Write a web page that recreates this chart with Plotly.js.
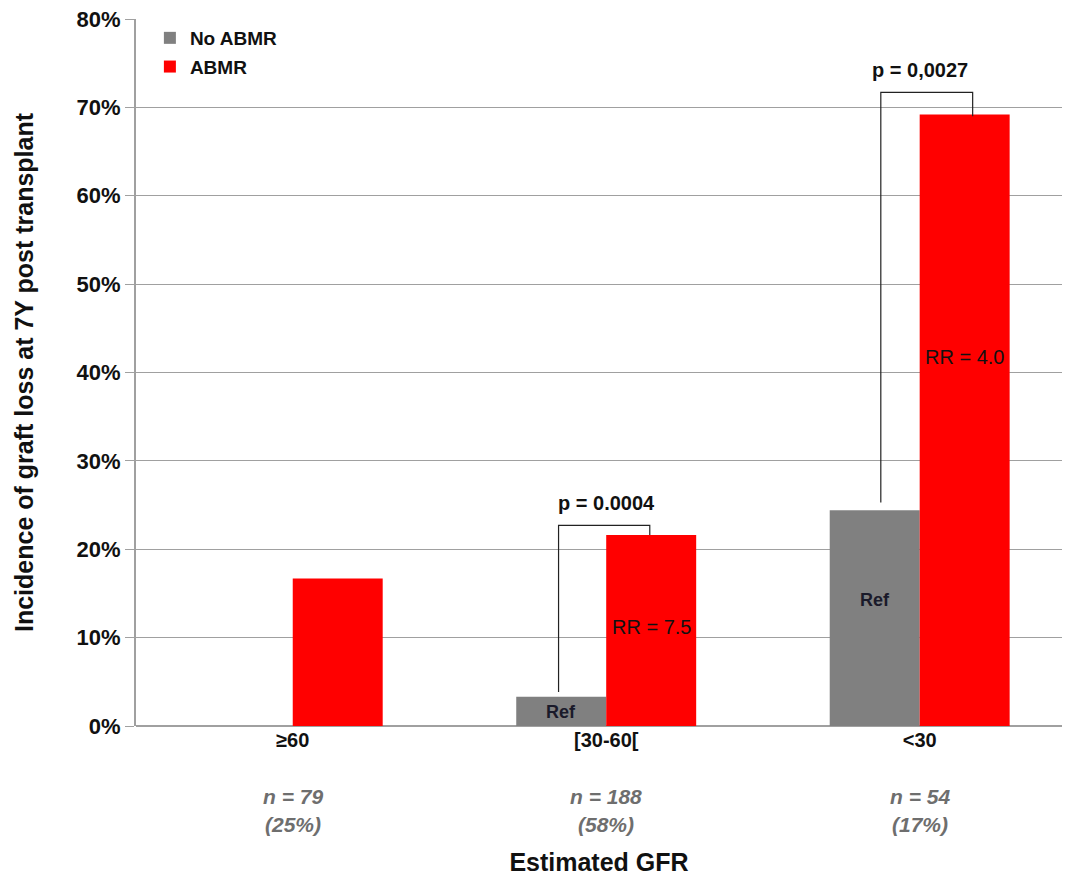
<!DOCTYPE html>
<html>
<head>
<meta charset="utf-8">
<script src="https://cdn.plot.ly/plotly-3.0.1.min.js"></script>
<style>html,body{margin:0;padding:0;background:#fff}#chart{width:1070px;height:877px}</style>
</head>
<body>
<div id="chart"></div>
<script>
var categories = ['≥60', '[30-60[', '<30'];
var noAbmr = [0, 3.3, 24.4];
var abmr = [16.7, 21.6, 69.2];
var nLabels = ['n = 79', 'n = 188', 'n = 54'];
var pctLabels = ['(25%)', '(58%)', '(17%)'];
var seriesNames = ['No ABMR', 'ABMR'];

var F = 'Liberation Sans, Arial, sans-serif';

var traces = [
  {type: 'bar', name: seriesNames[0], legendgroup: 'a', x: categories, y: noAbmr, marker: {color: '#808080'}, hoverinfo: 'y'},
  {type: 'bar', name: seriesNames[1], legendgroup: 'b', x: categories, y: abmr, marker: {color: '#ff0000'}, hoverinfo: 'y'}
];

var annotations = [];
for (var i = 0; i < categories.length; i++) {
  annotations.push({xref: 'x', yref: 'paper', x: i, y: -0.1, yanchor: 'middle', text: '<b><i>' + nLabels[i] + '</i></b>', showarrow: false, font: {family: F, size: 21, color: '#6e6e6e'}});
  annotations.push({xref: 'x', yref: 'paper', x: i, y: -0.14, yanchor: 'middle', text: '<b><i>' + pctLabels[i] + '</i></b>', showarrow: false, font: {family: F, size: 21, color: '#6e6e6e'}});
}
annotations.push({xref: 'x', yref: 'y', x: 0.857, y: 1.6, text: '<b>Ref</b>', showarrow: false, font: {family: F, size: 18, color: '#1a1a2a'}});
annotations.push({xref: 'x', yref: 'y', x: 1.143, y: 11.2, text: 'RR = 7.5', showarrow: false, font: {family: F, size: 20, color: '#111'}});
annotations.push({xref: 'x', yref: 'y', x: 1.857, y: 14.3, text: '<b>Ref</b>', showarrow: false, font: {family: F, size: 18, color: '#1a1a2a'}});
annotations.push({xref: 'x', yref: 'y', x: 2.143, y: 41.8, text: 'RR = 4.0', showarrow: false, font: {family: F, size: 20, color: '#111'}});
annotations.push({xref: 'x', yref: 'y', x: 1.0, y: 25.2, text: '<b>p = 0.0004</b>', showarrow: false, font: {family: F, size: 20, color: '#111'}});
annotations.push({xref: 'x', yref: 'y', x: 2.0, y: 74.2, text: '<b>p = 0,0027</b>', showarrow: false, font: {family: F, size: 20, color: '#111'}});

var lineStyle = {color: '#222', width: 1.2};
var shapes = [
  {type: 'path', xref: 'x', yref: 'y', path: 'M 0.848 3.85 L 0.848 22.7 L 1.139 22.7 L 1.139 21.6', line: lineStyle},
  {type: 'path', xref: 'x', yref: 'y', path: 'M 1.876 25.3 L 1.876 71.7 L 2.169 71.7 L 2.169 69.0', line: lineStyle}
];

var layout = {
  width: 1070, height: 877,
  margin: {l: 136, r: 8, t: 19, b: 151},
  paper_bgcolor: '#fff', plot_bgcolor: '#fff',
  barmode: 'group', bargap: 0.426, bargroupgap: 0,
  showlegend: true,
  legend: {x: 0.015, y: 1.0, xanchor: 'left', yanchor: 'top', traceorder: 'grouped', tracegroupgap: 1, bgcolor: 'rgba(0,0,0,0)', font: {family: F, size: 19, color: '#111', weight: 'bold'}, itemwidth: 30},
  xaxis: {
    type: 'category', range: [-0.5, 2.454],
    showgrid: false, zeroline: false,
    showline: false, ticks: '',
    tickfont: {family: F, size: 20, color: '#111', weight: 'bold'},
    tickangle: 0,
    title: {text: '<b>Estimated GFR</b>', font: {family: F, size: 25, color: '#111'}, standoff: 103}
  },
  yaxis: {
    range: [0, 80], dtick: 10, ticksuffix: '%',
    showgrid: true, gridcolor: '#a0a0a0', gridwidth: 1.2,
    zeroline: true, zerolinecolor: '#a0a0a0', zerolinewidth: 2,
    showline: true, linecolor: '#a0a0a0', linewidth: 2,
    ticks: 'outside', ticklen: 9, tickcolor: '#a0a0a0',
    tickfont: {family: F, size: 22, color: '#111', weight: 'bold'},
    title: {text: '<b>Incidence of graft loss at 7Y post transplant</b>', font: {family: F, size: 25, color: '#111'}, standoff: 36}
  },
  annotations: annotations,
  shapes: shapes
};

Plotly.newPlot('chart', traces, layout, {displayModeBar: false, staticPlot: true});
</script>
</body>
</html>
